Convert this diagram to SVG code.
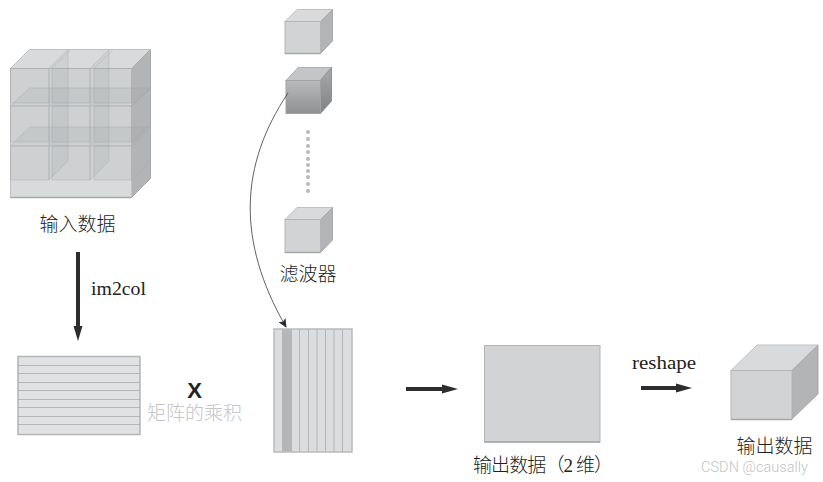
<svg xmlns="http://www.w3.org/2000/svg" width="823" height="482" viewBox="0 0 823 482">
<style>
text{font-family:"Liberation Serif","Noto Sans CJK SC",serif;fill:#222}
.zh{font-size:19px;text-anchor:middle;font-weight:300}
.lat{font-size:19px}
.f{fill:#d2d3d5;stroke:#b4b5b7;stroke-width:1}
.t{fill:#d9dadc;stroke:#bfc0c2;stroke-width:1}
.s{fill:#b3b4b6;stroke:#a9aaac;stroke-width:1}
.edge{fill:none;stroke:#a5a6a8;stroke-width:1.5}
.cell{fill:#9d9ea0;fill-opacity:.17;stroke:#a0a1a3;stroke-opacity:.45;stroke-width:.8}
.ln{stroke:#b4b5b7;stroke-width:1}
.dot{fill:#b8b9bb}
.arr{stroke:#2d2d2d;stroke-width:4;fill:none}
.head{fill:#2d2d2d}
</style>
<defs>
<linearGradient id="g" x1="0" y1="0" x2="0" y2="1"><stop offset="0" stop-color="#b9babc"/><stop offset="1" stop-color="#8f9092"/></linearGradient>
<linearGradient id="g2" x1="0" y1="0" x2="0" y2="1"><stop offset="0" stop-color="#a9aaac"/><stop offset="1" stop-color="#808183"/></linearGradient>
<marker id="thin" markerWidth="9" markerHeight="8" refX="8" refY="4" orient="auto" markerUnits="userSpaceOnUse"><path d="M0,0L9,4L0,8L2,4Z" fill="#2d2d2d"/></marker>
</defs>

<g id="input-data">
<path class="t" d="M10.500,68.500L29.500,49.500H150.500L131.500,68.500Z"/>
<path class="s" d="M131.500,68.500L150.500,49.500V178.500L131.500,197.500Z"/>
<rect class="t" x="10.500" y="68.500" width="121" height="129"/>
<path class="edge" d="M10.500,197.500H131.500"/>
<g id="input-cells">
<path class="cell" d="M10.500,68.500H49V103H10.500Z"/><path class="cell" d="M52,68.500H90V103H52Z"/><path class="cell" d="M94,68.500H131.500V103H94Z"/>
<path class="cell" d="M10.500,106H49V142H10.500Z"/><path class="cell" d="M52,106H90V142H52Z"/><path class="cell" d="M94,106H131.500V142H94Z"/>
<path class="cell" d="M10.500,146H49V180H10.500Z"/><path class="cell" d="M52,146H90V180H52Z"/><path class="cell" d="M94,146H131.500V180H94Z"/>
<path class="cell" d="M49,68.500L68,49.500V161L49,180Z"/><path class="cell" d="M90,68.500L109,49.500V161L90,180Z"/>
<path class="cell" d="M10.500,106L29.500,88H150.500L131.500,106Z"/><path class="cell" d="M10.500,146L29.500,127H150.500L131.500,146Z"/>
<path class="cell" d="M52,68.500L71,49.500M94,68.500L113,49.500M131.500,106L150.500,88M131.500,142L150.500,123M131.500,180L150.500,161"/>
</g>
<text class="zh" x="77.500" y="231">输入数据</text>
</g>

<g id="filter-1">
<path class="t" d="M285,21.500L297,9.500H332.500L320.500,21.500Z"/>
<path class="s" d="M320.500,21.500L332.500,9.500V41L320.500,53.500Z"/>
<rect class="f" x="285" y="21.500" width="35.500" height="32"/>
<path class="edge" d="M285,53.500H320.500"/>
</g>
<g id="filter-2">
<path fill="#c4c5c7" stroke="#b0b1b3" d="M286,80.500L298,67.500H331.500L320.500,80.500Z"/>
<path fill="url(#g2)" stroke="#8e8f91" d="M320.500,80.500L331.500,67.500V101L320.500,113.500Z"/>
<rect fill="url(#g)" stroke="#a0a1a3" x="286" y="80.500" width="34.500" height="33"/>
</g>
<g id="filter-dots">
<circle class="dot" cx="308" cy="132" r="2"/><circle class="dot" cx="308" cy="139" r="2"/><circle class="dot" cx="308" cy="146" r="2"/><circle class="dot" cx="308" cy="152" r="2"/><circle class="dot" cx="308" cy="159" r="2"/><circle class="dot" cx="308" cy="165" r="2"/><circle class="dot" cx="308" cy="171" r="2"/><circle class="dot" cx="308" cy="177" r="2"/><circle class="dot" cx="308" cy="184" r="2"/><circle class="dot" cx="308" cy="191" r="2"/>
</g>
<g id="filter-3">
<path class="t" d="M285,219.500L297,207.500H332.500L320.500,219.500Z"/>
<path class="s" d="M320.500,219.500L332.500,207.500V240L320.500,252.500Z"/>
<rect class="f" x="285" y="219.500" width="35.500" height="33"/>
<path class="edge" d="M285,252.500H320.500"/>
<text class="zh" x="308" y="281">滤波器</text>
</g>

<g id="matrix-a">
<rect x="18" y="356.500" width="122" height="78" fill="#e1e2e4" stroke="#b4b5b7" stroke-width="1.500"/>
<path class="ln" d="M18,365.500H140M18,373.500H140M18,382.500H140M18,390.500H140M18,399.500H140M18,407.500H140M18,416.500H140M18,424.500H140"/>
</g>
<g id="times">
<text x="194.500" y="397.500" text-anchor="middle" style="font-family:'Liberation Sans',sans-serif;font-weight:700;font-size:22px;fill:#222">X</text>
<text class="zh" x="194.500" y="419.500" style="fill:#c3c5c8">矩阵的乘积</text>
</g>
<g id="matrix-b">
<rect x="274" y="329" width="78" height="123" fill="#dcdddf" stroke="#b9babc" stroke-width="1.500"/>
<rect x="282" y="329.500" width="10" height="122" fill="#b5b6b8"/>
<path class="ln" d="M299.500,329V452M308.500,329V452M317,329V452M325.500,329V452M334,329V452M342.500,329V452"/>
</g>
<g id="output-2d">
<rect x="484.500" y="345.500" width="115.500" height="96.500" fill="#d2d3d5" stroke="#b2b3b5"/>
<path class="edge" d="M484.500,442H600"/>
<text class="zh" x="543" y="472" textLength="140" lengthAdjust="spacing" style="text-anchor:start" dx="-70">输出数据（2 维）</text>
</g>
<g id="output-3d">
<path class="t" d="M731,370.500L757,345H818L792,370.500Z"/>
<path class="s" d="M792,370.500L818,345V394L792,419Z"/>
<rect class="f" x="731" y="370.500" width="61" height="49"/>
<path class="edge" d="M731,419.500H792"/>
<text class="zh" x="774.500" y="453">输出数据</text>
</g>

<g id="connectors">
<path class="arr" d="M78,252V330"/><path class="head" d="M73.500,326L78,341L82.500,326Z"/>
<path class="arr" d="M406,389H445"/><path class="head" d="M442,384.500L458,389L442,393.500Z"/>
<path class="arr" d="M641,388H678"/><path class="head" d="M676,383.500L692,388L676,392.500Z"/>
<path d="M288,93C240,165 236,240 286,327" fill="none" stroke="#3a3a3a" stroke-width=".8" marker-end="url(#thin)"/>
</g>
<text class="lat" x="91" y="295" textLength="55" lengthAdjust="spacingAndGlyphs">im2col</text>
<text class="lat" x="632" y="369" textLength="64" lengthAdjust="spacingAndGlyphs">reshape</text>
<text x="701" y="472" textLength="107" lengthAdjust="spacing" style="font-family:Roboto,sans-serif;font-weight:300;font-size:14.500px;fill:#c2c3c5">CSDN @causally</text>
</svg>
